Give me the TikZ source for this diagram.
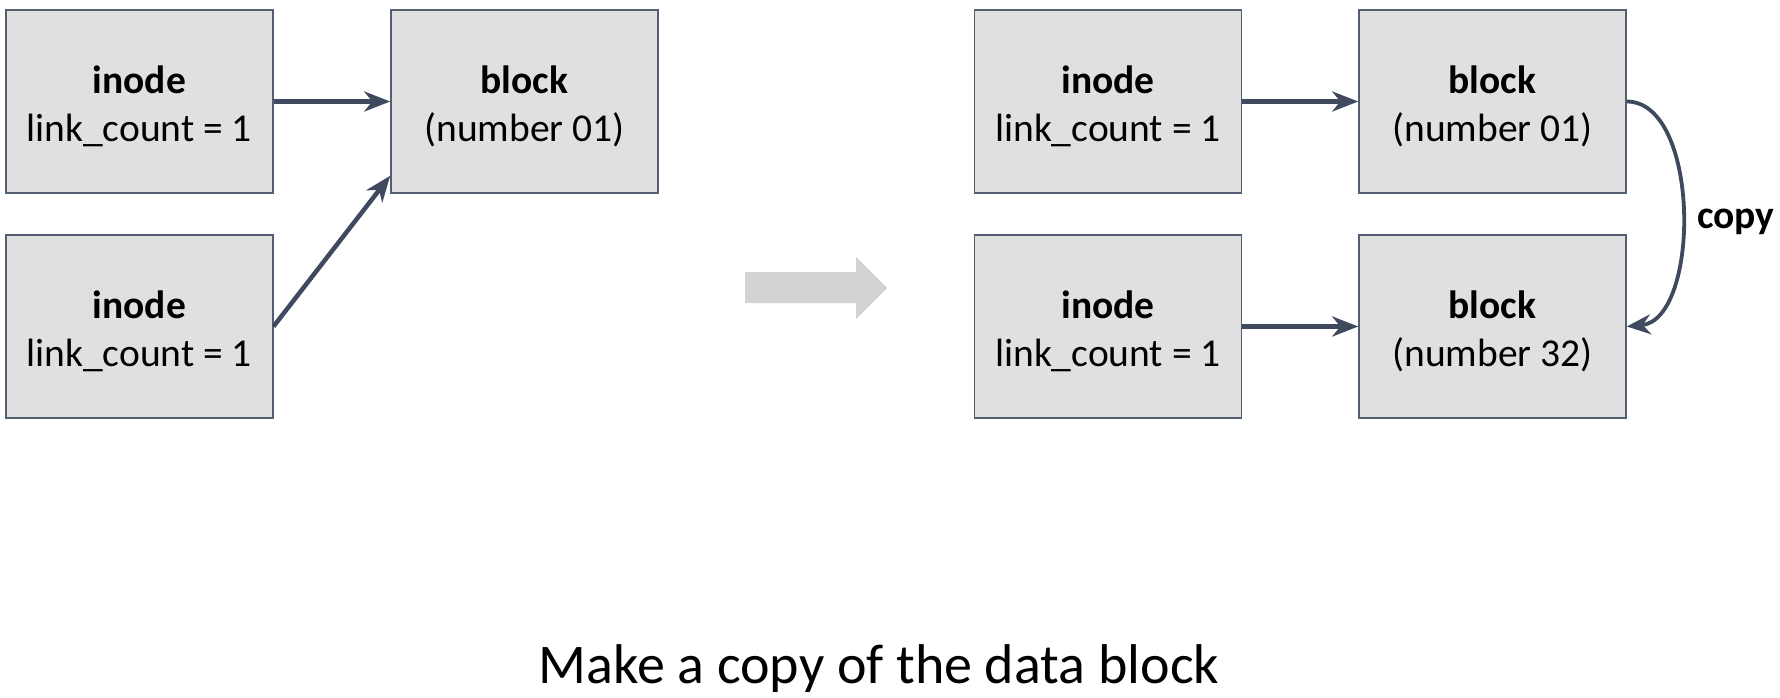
\documentclass[tikz,border=0pt]{standalone}
\usepackage{fontspec}
\setmainfont{Carlito}
\usetikzlibrary{arrows.meta}
\definecolor{boxfill}{RGB}{224,224,224}
\definecolor{boxline}{RGB}{84,94,114}
\definecolor{arrowc}{RGB}{63,74,94}
\definecolor{bigarrow}{RGB}{211,211,211}
\newcommand{\topstrut}{\rule{0pt}{38pt}}
\tikzset{
  box/.style={draw=boxline, line width=1.5pt, fill=boxfill, minimum width=267pt, minimum height=183pt, inner sep=0pt, align=center, font=\fontsize{39.5}{48}\selectfont},
  conn/.style={draw=arrowc, line width=4.5pt, -{Stealth[length=26pt, width=20pt, inset=8pt]}},
  copyconn/.style={draw=arrowc, line width=3.8pt, -{Stealth[length=24pt, width=20pt, inset=8pt]}},
}
\begin{document}
\begin{tikzpicture}[x=1pt, y=-1pt]
\useasboundingbox (0,0) rectangle (1780,698);
% left side
\node[box] (li1) at (139.25,101.5) {\topstrut\textbf{inode}\\link\_count = 1};
\node[box] (li2) at (139.25,326.5) {\topstrut\textbf{inode}\\link\_count = 1};
\node[box] (lb)  at (524.5,101.5) {\topstrut\textbf{block}\\(number 01)};
\draw[conn] (li1.east) -- (lb.west);
\draw[conn] (li2.east) -- ([yshift=18pt]lb.south west);
% big gray arrow
\fill[bigarrow] (745,272) -- (856,272) -- (856,257) -- (887,288) -- (856,319) -- (856,303) -- (745,303) -- cycle;
% right side
\node[box] (ri1) at (1108,101.5) {\topstrut\textbf{inode}\\link\_count = 1};
\node[box] (rb1) at (1492.5,101.5) {\topstrut\textbf{block}\\(number 01)};
\node[box] (ri2) at (1108,326.5) {\topstrut\textbf{inode}\\link\_count = 1};
\node[box] (rb2) at (1492.5,326.5) {\topstrut\textbf{block}\\(number 32)};
\draw[conn] (ri1.east) -- (rb1.west);
\draw[conn] (ri2.east) -- (rb2.west);
\draw[copyconn] (rb1.east) .. controls ([xshift=74pt]rb1.east) and ([xshift=74pt,yshift=6.5pt]rb2.east) .. (rb2.east);
\node[anchor=base west, inner sep=0pt, font=\fontsize{39.5}{48}\selectfont\bfseries] (cp) at (1697,228) {copy};
% title
\node[anchor=base, inner sep=0pt, font=\fontsize{56}{62}\selectfont] (title) at (879,683) {Make a copy of the data block};
\end{tikzpicture}
\end{document}
